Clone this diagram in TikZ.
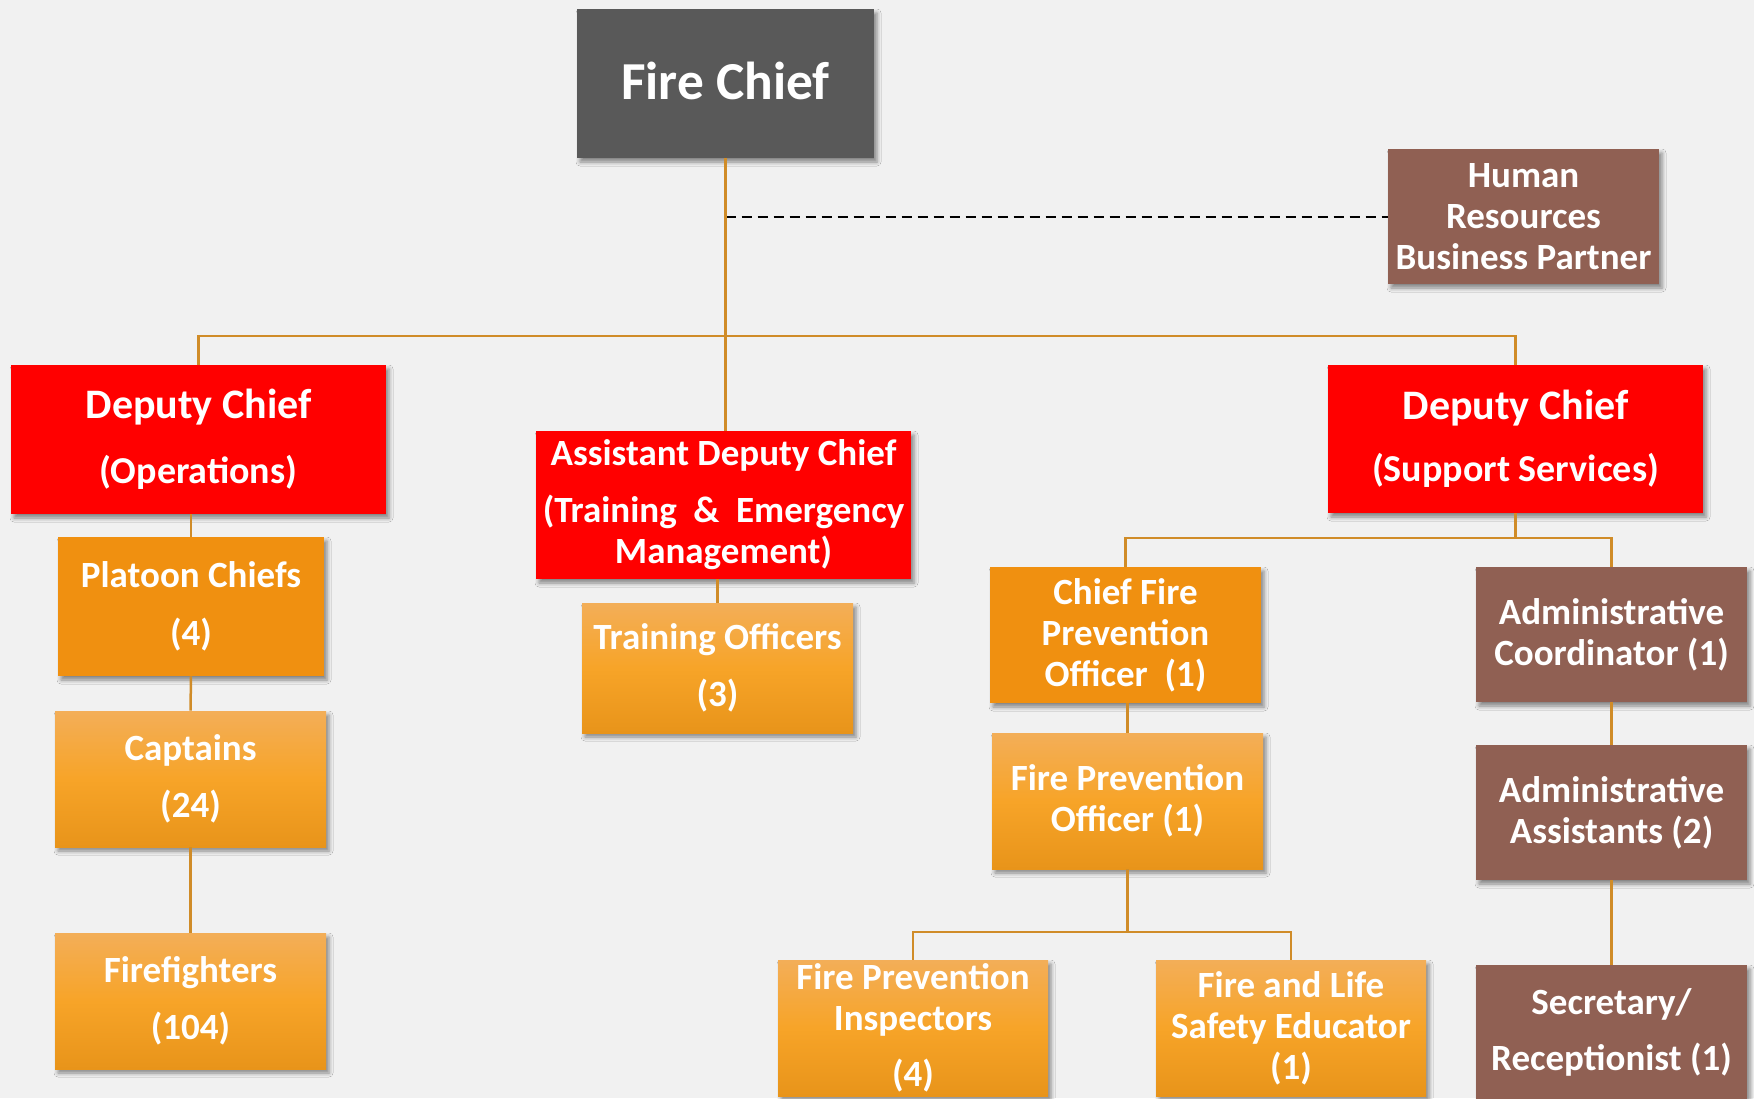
\documentclass[tikz,border=0pt]{standalone}
\usepackage{fontspec}
\setmainfont{Carlito}
\usetikzlibrary{shadows.blur}
\definecolor{conn}{RGB}{208,140,40}
\definecolor{bgc}{RGB}{241,241,241}
\definecolor{greyc}{RGB}{89,89,89}
\definecolor{redc}{RGB}{255,0,0}
\definecolor{brownc}{RGB}{144,96,83}
\definecolor{orc}{RGB}{240,144,16}
\definecolor{orTop}{RGB}{243,174,88}
\definecolor{orMid}{RGB}{247,164,40}
\definecolor{orBot}{RGB}{232,148,26}
\tikzset{
  box/.style={draw=none, text=white, align=center, inner sep=0pt,
    font=\bfseries\fontsize{18.5}{20.5}\selectfont,
    blur shadow={shadow xshift=1.5pt, shadow yshift=-2pt, shadow blur radius=2pt, shadow opacity=45}},
  sz/.style 2 args={minimum width=#1*0.5pt, minimum height=#2*0.5pt},
  greybox/.style={box, fill=greyc},
  redbox/.style={box, fill=redc},
  brownbox/.style={box, fill=brownc},
  orbox/.style={box, fill=orc},
  gradbox/.style={box, top color=orTop, bottom color=orBot, middle color=orMid},
  link/.style={draw=conn, line width=1.25pt},
  dotlink/.style={draw=black, line width=1pt, dash pattern=on 5pt off 3pt}
}
\newcommand{\subfs}{\fontsize{19}{21}\selectfont}
\begin{document}
\begin{tikzpicture}[x=0.5pt,y=-0.5pt]
\useasboundingbox (0,0) rectangle (1754,1098);
\clip (0,0) rectangle (1754,1098);
\fill[bgc] (0,0) rectangle (1754,1098);

% nodes
\node[greybox, sz={297}{149}, font=\bfseries\fontsize{26.7}{30}\selectfont] (chief) at (725.5,83.5) {Fire Chief\rule[-3pt]{0pt}{1pt}};
\node[brownbox, sz={271}{135}] (hr) at (1523.5,216.5) {Human\\Resources\\Business Partner};

\node[redbox, sz={375}{149}, font=\bfseries\fontsize{21}{25}\selectfont] (dops) at (198.5,439.5) {Deputy Chief\\[7.5pt]{\subfs(Operations)}};
\node[redbox, sz={375}{148}] (adc) at (723.5,505) {Assistant Deputy Chief\\[8pt](Training\hspace{0.45em}\&\hspace{0.45em}Emergency\\Management)};
\node[redbox, sz={375}{148}, font=\bfseries\fontsize{21}{25}\selectfont] (dsup) at (1515.5,439) {Deputy Chief\\[6pt]{\subfs(Support Services)}};

\node[orbox, sz={266}{139}] (platoon) at (191,606.5) {Platoon Chiefs\\[8.5pt](4)};
\node[gradbox, sz={271}{136}] (captains) at (190.5,779) {Captains\\[8pt](24)};
\node[gradbox, sz={271}{136}] (ff) at (190.5,1001) {Firefighters\\[8pt](104)};

\node[gradbox, sz={271}{130}] (training) at (717.5,668) {Training Officers\\[8pt](3)};

\node[orbox, sz={271}{136}] (cfpo) at (1125.5,635) {Chief Fire\\Prevention\\Officer\ \ (1)};
\node[gradbox, sz={271}{136}] (fpo) at (1127.5,801) {Fire Prevention\\Officer (1)};
\node[gradbox, sz={270}{136}] (fpi) at (913,1028) {Fire Prevention\\Inspectors\\[7.5pt](4)};
\node[gradbox, sz={270}{136}] (flse) at (1291,1028) {Fire and Life\\Safety Educator\\(1)};

\node[brownbox, sz={271}{135}] (admc) at (1611.5,634.5) {Administrative\\Coordinator (1)};
\node[brownbox, sz={271}{135}] (adma) at (1611.5,812.5) {Administrative\\Assistants (2)};
\node[brownbox, sz={271}{134}] (sec) at (1611.5,1032) {Secretary/\\[7.5pt]Receptionist (1)};

% connectors
\coordinate (bus) at (725.5,336);
\coordinate (sb) at (1515.5,538);
\coordinate (fb) at (1127.5,932);

\draw[dotlink] (chief.south |- hr.west) -- (hr.west);
\draw[link] (chief.south) -- (chief.south |- adc.north);
\draw[link] (dops.north) |- (bus) -| (dsup.north);

\draw[link] (platoon.north) -- (platoon.north |- dops.south);
\draw[link] (platoon.south) -- (captains.north);
\draw[link] (captains.south) -- (ff.north);

\draw[link] (training.north) -- (training.north |- adc.south);

\draw[link] (dsup.south) -- (sb);
\draw[link] (cfpo.north) |- (sb) -| (admc.north);
\draw[link] (fpo.north) -- (fpo.north |- cfpo.south);
\draw[link] (fpo.south) -- (fb);
\draw[link] (fpi.north) |- (fb) -| (flse.north);

\draw[link] (admc.south) -- (adma.north);
\draw[link] (adma.south) -- (sec.north);
\end{tikzpicture}
\end{document}
